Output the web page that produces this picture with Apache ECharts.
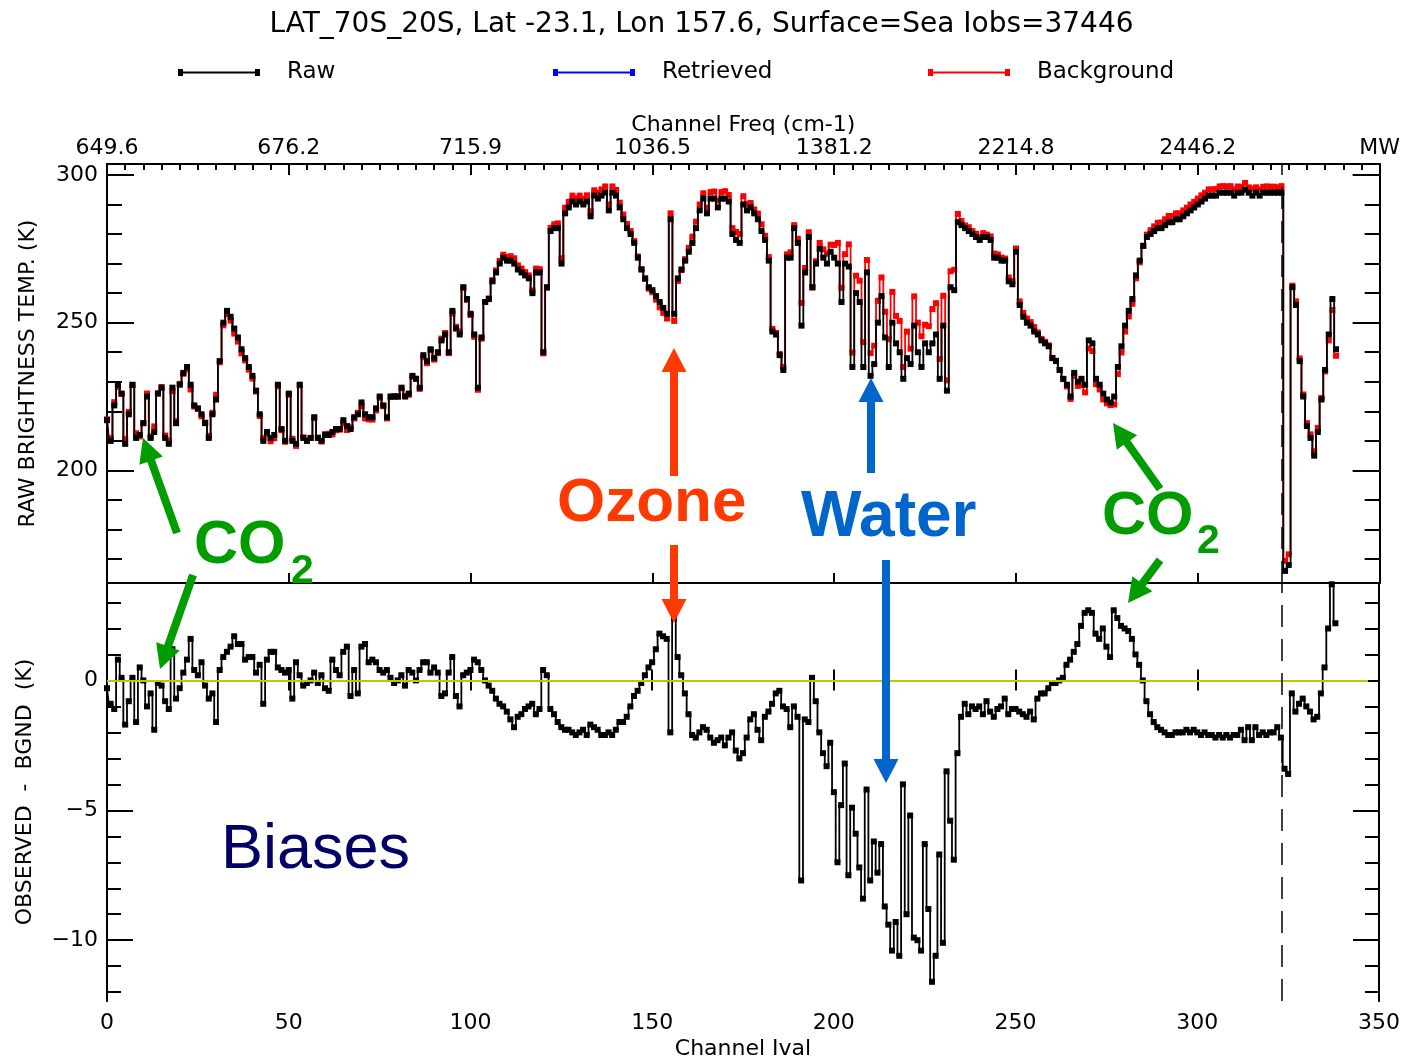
<!DOCTYPE html>
<html><head><meta charset="utf-8">
<script src="https://cdn.jsdelivr.net/npm/echarts@6/dist/echarts.min.js"></script>
<style>html,body{margin:0;padding:0;background:#fff}#c{width:1403px;height:1061px}</style>
</head><body><div id="c"></div>
<script>
// ---- data (channel index = array position) ----
const raw = [
217,210,222,229,226,209,219,229,211,212,
216,225,211,213,226,228,211,209,228,216,
229,233,235,229,222,221,219,216,211,219,
224,237,250,254,252,248,245,241,238,235,
232,227,219,210,213,211,212,229,214,210,
226,210,209,229,211,210,211,218,211,210,
212,212,213,214,214,217,215,214,218,219,
223,219,218,218,221,225,222,218,225,225,
225,228,225,226,232,231,228,239,237,241,
238,240,244,246,240,254,248,246,262,258,
253,246,228,245,257,258,264,267,270,272,
271,271,270,268,267,266,265,260,267,267,
240,262,281,282,282,270,287,289,291,290,
291,290,291,286,293,292,293,294,288,294,
293,289,285,282,280,277,272,268,265,262,
261,259,257,255,253,285,253,265,268,271,
274,277,282,288,292,287,292,292,289,292,
292,291,280,278,277,290,288,289,287,285,
281,278,271,247,246,239,234,272,272,282,
277,249,267,279,262,270,275,272,270,274,
272,270,257,270,269,235,260,257,235,267,
232,236,250,259,245,235,250,243,240,231,
238,236,249,240,235,243,240,243,246,231,
249,227,262,261,284,283,282,281,280,279,
278,279,279,278,272,272,271,271,264,263,
274,256,252,250,249,247,246,244,243,242,
238,237,234,231,229,225,233,230,231,229,
244,243,231,229,226,224,223,225,235,242,
249,254,258,266,271,276,279,280,281,282,
282,283,284,284,285,285,286,287,288,289,
290,291,292,293,293,293,294,294,294,294,
293,294,294,295,294,293,294,293,294,294,
294,294,294,294,166,168,262,256,237,225,
215,211,205,213,224,234,246,258,241
];
const background = [
217.3,210.9,223.1,228.2,225.9,210.7,219.8,228.9,212.6,211.5,
216,226,211.5,214.9,226.1,228.2,211.8,210.1,226.8,216.7,
229.3,232.7,234.2,227.4,221.6,220.8,218.3,216.2,211.7,219.5,
225.6,236.6,249.1,252.9,250.7,246.3,243.6,239.6,237.2,234.1,
231.1,226.7,218.4,210.9,212.2,209.9,210.9,228.5,213.6,209.7,
225.6,210.7,208.3,228.8,211.2,210.1,211,217.7,211.1,209.8,
212.3,212.4,212.2,213.6,213.8,215.9,213.7,214.6,217.6,219.5,
221.7,217.6,217.3,217.2,220.3,224.6,221.7,217.6,224.9,225.1,
225,227.8,225.2,225.6,231.7,231,227.6,238.3,236.3,240.7,
237.5,239.7,244.6,246.5,239.7,253.1,248.6,247,261.8,257.7,
252.6,245.2,227.3,244.6,257,258.2,264.4,267.7,270.9,273,
272.2,272.5,271.8,269.4,268.3,267.1,266,260.9,268.3,268.1,
239.6,261.8,282.1,283.3,283.6,271.8,288.9,290.9,293,292.1,
293,291.9,293.1,287.7,294.8,293.9,295.1,296.1,290,296.1,
294.9,290.6,286.6,283.4,281,277.6,272.4,268.1,264.8,261.5,
260.3,257.8,255.2,253.3,251.4,287,250.6,264.1,267.8,271.5,
275.3,279.1,284.2,290,293.8,288.9,294.2,294.4,291.3,294.2,
294.5,293.2,282,280.7,280,292.8,290.2,290.5,288.3,286.9,
283.3,279.4,272.2,247.9,246.5,239.4,235,273.1,273.8,283,
278.4,256.7,268.5,280.6,261.9,270.8,277,274.8,273.3,276.4,
276.3,277,261.8,273.2,276.5,239.9,265.9,264.2,243.4,271.2,
239.7,242.2,257.4,265.3,253.7,244.4,260.4,252.3,250.6,235,
247,241.2,258.9,250,245.4,249.3,248.8,254.6,256.6,237.7,
259.1,230.5,267.4,267.9,286.8,284.4,282.9,282.3,281,280.1,
279,280.3,279.8,279.2,273.4,273.1,272,271.7,265.3,264.1,
275.1,257.2,253.3,251.4,250.2,248.5,246.7,244.5,243.5,242.3,
238.1,237.1,234,230.9,228.4,224.2,231.9,228.6,228.9,226.4,
241.3,240.4,229.2,227.4,224,222.7,222.1,222.3,232.6,239.9,
247,252.1,256.4,265,270.4,276,279.8,281.3,282.6,283.8,
283.9,285,286.1,286.1,287,287,288,288.9,290,290.9,
292,293.1,294,295.1,295.1,295.2,296.1,296.2,296.1,296.2,
295.1,296.1,295.9,297.3,295.8,295.3,295.8,295.1,296,296.1,
296,296,295.8,296.2,169.4,171.6,262.5,257.2,237.9,225.7,
216,212.2,206.5,214.4,224.5,233.5,244,254.3,238.8
];
const bias = [
-0.3,-0.9,-1.1,0.8,0.1,-1.7,-0.8,0.1,-1.6,0.5,
0,-1.0,-0.5,-1.9,-0.1,-0.2,-0.8,-1.1,1.2,-0.7,
-0.3,0.3,0.8,1.6,0.4,0.2,0.7,-0.2,-0.7,-0.5,
-1.6,0.4,0.9,1.1,1.3,1.7,1.4,1.4,0.8,0.9,
0.9,0.3,0.6,-0.9,0.8,1.1,1.1,0.5,0.4,0.3,
0.4,-0.7,0.7,0.2,-0.2,-0.1,0.0,0.3,-0.1,0.2,
-0.3,-0.4,0.8,0.4,0.2,1.1,1.3,-0.6,0.4,-0.5,
1.3,1.4,0.7,0.8,0.7,0.4,0.3,0.4,0.1,-0.1,
0.0,0.2,-0.2,0.4,0.3,0.0,0.4,0.7,0.7,0.3,
0.5,0.3,-0.6,-0.5,0.3,0.9,-0.6,-1.0,0.2,0.3,
0.4,0.8,0.7,0.4,0.0,-0.2,-0.4,-0.7,-0.9,-1.0,
-1.2,-1.5,-1.8,-1.4,-1.3,-1.1,-1.0,-0.9,-1.3,-1.1,
0.4,0.2,-1.1,-1.3,-1.6,-1.8,-1.9,-1.9,-2.0,-2.1,
-2.0,-1.9,-2.1,-1.7,-1.8,-1.9,-2.1,-2.1,-2.0,-2.1,
-1.9,-1.6,-1.6,-1.4,-1.0,-0.6,-0.4,-0.1,0.2,0.5,
0.7,1.2,1.8,1.7,1.6,-2.0,2.4,0.9,0.2,-0.5,
-1.3,-2.1,-2.2,-2.0,-1.8,-1.9,-2.2,-2.4,-2.3,-2.2,
-2.5,-2.2,-2.0,-2.7,-3.0,-2.8,-2.2,-1.5,-1.3,-1.9,
-2.3,-1.4,-1.2,-0.9,-0.5,-0.4,-1.0,-1.1,-1.8,-1.0,
-1.4,-7.7,-1.5,-1.6,0.1,-0.8,-2.0,-2.8,-3.3,-2.4,
-4.3,-7.0,-4.8,-3.2,-7.5,-4.9,-5.9,-7.2,-8.4,-4.2,
-7.7,-6.2,-7.4,-6.3,-8.7,-9.4,-10.4,-9.3,-10.6,-4.0,
-9.0,-5.2,-9.9,-10.0,-10.4,-6.3,-8.8,-11.6,-10.6,-6.7,
-10.1,-3.5,-5.4,-6.9,-2.8,-1.4,-0.9,-1.3,-1.0,-1.1,
-1.0,-1.3,-0.8,-1.2,-1.4,-1.1,-1.0,-0.7,-1.3,-1.1,
-1.1,-1.2,-1.3,-1.4,-1.2,-1.5,-0.7,-0.5,-0.5,-0.3,
-0.1,-0.1,0.0,0.1,0.6,0.8,1.1,1.4,2.1,2.6,
2.7,2.6,1.8,1.6,2.0,1.3,0.9,2.7,2.4,2.1,
2.0,1.9,1.6,1.0,0.6,0.0,-0.8,-1.3,-1.6,-1.8,
-1.9,-2.0,-2.1,-2.1,-2.0,-2.0,-2.0,-1.9,-2.0,-1.9,
-2.0,-2.1,-2.0,-2.1,-2.1,-2.2,-2.1,-2.2,-2.1,-2.2,
-2.1,-2.1,-1.9,-2.3,-1.8,-2.3,-1.8,-2.1,-2.0,-2.1,
-2.0,-2.0,-1.8,-2.2,-3.4,-3.6,-0.5,-1.2,-0.9,-0.7,
-1.0,-1.2,-1.5,-1.4,-0.5,0.5,2.0,3.7,2.2
];
const retrieved = [];
const channelTicks = [0,50,100,150,200,250,300,350];
const freqLabels = ['649.6','676.2','715.9','1036.5','1381.2','2214.8','2446.2','MW'];
const tempMajor = [200,250,300];
const tempMinor = [170,180,190,210,220,230,240,260,270,280,290];
const biasMajor = [-10,-5,0];
const biasMinor = [-12,-11,-9,-8,-7,-6,-4,-3,-2,-1,1,2,3];
const irMwBoundary = 323.2;

// ---- chart ----
const FONT = "'DejaVu Sans', 'Liberation Sans', sans-serif";
const ARIAL = "'Liberation Sans', Arial, sans-serif";
const AX = {color:'#000', width:2};
const pts = arr => arr.map((v,i)=>[i,v]);
const minus = v => String(v).replace('-', '\u2212');

function yAx(grid, pos, min, max, ticks, len, labelVals, name, gap){
  const o = {
    gridIndex:grid, type:'value', position:pos, min:min, max:max,
    axisLine:{show:true, lineStyle:AX},
    axisTick:{show:true, inside:true, length:len, customValues:ticks, lineStyle:{color:'#000', width:2}},
    axisLabel: labelVals ? {show:true, customValues:labelVals, margin:9, color:'#000', fontFamily:FONT, fontSize:22, formatter:minus} : {show:false},
    splitLine:{show:false}
  };
  if (name){ o.name=name; o.nameLocation='middle'; o.nameGap=gap; o.nameRotate=90;
    o.nameTextStyle={color:'#000', fontFamily:FONT, fontSize:22}; }
  return o;
}
function xAx(grid, pos, len, opts){
  return Object.assign({
    gridIndex:grid, type:'value', position:pos, min:0, max:350, interval:50,
    axisLine:{show:true, lineStyle:AX},
    axisTick:{show:true, inside:true, length:len, lineStyle:{color:'#000', width:2}},
    axisLabel:{show:false},
    splitLine:{show:false}
  }, opts||{});
}
function arrow(x1,y1,x2,y2,color){
  const dx=x2-x1, dy=y2-y1, L=Math.hypot(dx,dy), ux=dx/L, uy=dy/L, px=-uy, py=ux;
  const hl=24, hw=12.5, sw=4;
  const bx=x2-ux*hl, by=y2-uy*hl;
  return {type:'polygon', z:100, silent:true, shape:{points:[
    [x1+px*sw,y1+py*sw],[bx+px*sw,by+py*sw],[bx+px*hw,by+py*hw],[x2,y2],
    [bx-px*hw,by-py*hw],[bx-px*sw,by-py*sw],[x1-px*sw,y1-py*sw]]}, style:{fill:color}};
}
function label(x,y,text,color,size,weight){
  return {type:'text', z:100, silent:true, x:x, y:y, style:{text:text, fill:color,
    font:(weight||'bold')+' '+size+'px '+ARIAL, textAlign:'left', align:'left',
    textVerticalAlign:'middle', verticalAlign:'middle'}};
}
const GREEN='#009c00', ORANGE='#ff3a00', BLUE='#0066cc', NAVY='#000066';
const legendIcon = 'path://M0,2.5 H82 V4.5 H0 Z M0,0 H5 V7 H0 Z M77,0 H82 V7 H77 Z';
function legend(left, name){
  return {left:left, top:61, padding:0, itemWidth:82, itemHeight:7, selectedMode:false,
    data:[{name:name, icon:legendIcon}],
    textStyle:{color:'#000', fontFamily:FONT, fontSize:23, padding:[0,0,0,22]}};
}

const chart = echarts.init(document.getElementById('c'), null, {renderer:'canvas'});
chart.setOption({
  animation:false,
  backgroundColor:'#fff',
  title:{text:'LAT_70S_20S, Lat -23.1, Lon 157.6, Surface=Sea Iobs=37446', left:'center', top:11, padding:0,
    textStyle:{color:'#000', fontFamily:FONT, fontSize:28, fontWeight:'normal'}},
  legend:[legend(178,'Raw'), legend(553,'Retrieved'), legend(928,'Background')],
  grid:[
    {left:107, top:164, width:1276, height:419, containLabel:false},
    {left:107, top:583, width:1276, height:420, containLabel:false}
  ],
  xAxis:[
    xAx(0,'top',11,{
      minorTick:{show:true, splitNumber:10, length:6, lineStyle:{color:'#000', width:2}},
      axisLabel:{show:true, margin:5, color:'#000', fontFamily:FONT, fontSize:22, showMinLabel:true, showMaxLabel:true,
        formatter:v=>freqLabels[channelTicks.indexOf(v)]},
      name:'Channel Freq (cm-1)', nameLocation:'middle', nameGap:22,
      nameTextStyle:{color:'#000', fontFamily:FONT, fontSize:22}
    }),
    xAx(0,'bottom',10),
    xAx(1,'bottom',11,{
      axisLabel:{show:true, margin:11, color:'#000', fontFamily:FONT, fontSize:22, showMinLabel:true, showMaxLabel:true},
      name:'Channel Ival', nameLocation:'middle', nameGap:37,
      nameTextStyle:{color:'#000', fontFamily:FONT, fontSize:22}
    }),
    xAx(1,'top',10)
  ],
  yAxis:[
    yAx(0,'left',161.9,303.7,tempMajor,27,tempMajor,'RAW BRIGHTNESS TEMP. (K)',68),
    yAx(0,'left',161.9,303.7,tempMinor,15,null),
    yAx(0,'right',161.9,303.7,tempMajor,27,null),
    yAx(0,'right',161.9,303.7,tempMinor,15,null),
    yAx(1,'left',-12.34,3.75,biasMajor,26,biasMajor,'OBSERVED  -  BGND  (K)',71),
    yAx(1,'left',-12.34,3.75,biasMinor,14,null),
    yAx(1,'right',-12.34,3.75,biasMajor,26,null),
    yAx(1,'right',-12.34,3.75,biasMinor,14,null)
  ],
  series:[
    {name:'Background', type:'line', xAxisIndex:0, yAxisIndex:0, step:'middle', data:pts(background),
      symbol:'rect', symbolSize:6, color:'#ff0000', lineStyle:{color:'#ff0000', width:1.8}, itemStyle:{color:'#ff0000'}, z:2},
    {name:'Retrieved', type:'line', xAxisIndex:0, yAxisIndex:0, data:retrieved, color:'#0000ff',
      lineStyle:{color:'#0000ff'}, itemStyle:{color:'#0000ff'}},
    {name:'Raw', type:'line', xAxisIndex:0, yAxisIndex:0, step:'middle', data:pts(raw),
      symbol:'rect', symbolSize:6, color:'#000', lineStyle:{color:'#000', width:1.8}, itemStyle:{color:'#000'}, z:3,
      markLine:{silent:true, symbol:'none', label:{show:false}, animation:false,
        lineStyle:{color:'#000', width:1.5, type:[22,12]}, data:[{xAxis:irMwBoundary}]}},
    {name:'Obs - Bgnd', type:'line', xAxisIndex:2, yAxisIndex:4, step:'middle', data:pts(bias),
      symbol:'rect', symbolSize:6, color:'#000', lineStyle:{color:'#000', width:1.8}, itemStyle:{color:'#000'}, z:3,
      markLine:{silent:true, symbol:'none', label:{show:false}, animation:false,
        data:[
          [{coord:[0,0], lineStyle:{color:'#c4c400', width:2, type:'solid'}},{coord:[347,0]}],
          {xAxis:irMwBoundary, lineStyle:{color:'#000', width:1.5, type:[22,12]}}
        ]}}
  ],
  graphic:[
    arrow(177,533,143,438,GREEN),
    arrow(193,575,160,669,GREEN),
    arrow(674,476,674,348,ORANGE),
    arrow(674,545,674,623,ORANGE),
    arrow(871,473,871,378,BLUE),
    arrow(886,560,886,783,BLUE),
    arrow(1160,489,1113,423,GREEN),
    arrow(1160,560,1128,603,GREEN),
    label(194,546,'CO',GREEN,61),
    label(291,572,'2',GREEN,41),
    label(1102,517,'CO',GREEN,61),
    label(1197,542,'2',GREEN,41),
    label(557,504,'Ozone',ORANGE,62),
    label(801,518,'Water',BLUE,64),
    label(221,851,'Biases',NAVY,63,'normal')
  ]
});
</script></body></html>
